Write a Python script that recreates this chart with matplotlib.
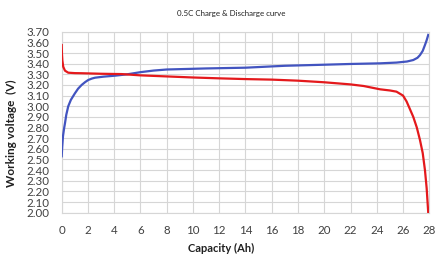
import matplotlib
matplotlib.use("Agg")
import matplotlib.pyplot as plt
import numpy as np

plt.rcParams['font.family'] = ['Lato', 'DejaVu Sans']

title = "0.5C Charge & Discharge curve"
xlabel = "Capacity (Ah)"
ylabel = "Working voltage  (V)"

charge_x = [0, 0.04, 0.1, 0.18, 0.25, 0.35, 0.5, 0.7, 1.0, 1.25, 1.52, 1.8, 2.03, 2.3, 2.54,
            3.2, 4.06, 5.0, 6.0, 7.0, 8.0, 11.0, 14.0, 17.0, 20.0, 22.0, 24.25,
            25.5, 26.3, 26.78, 27.1, 27.29, 27.5, 27.67, 27.8, 27.92]
charge_v = [2.53, 2.62, 2.72, 2.79, 2.84, 2.92, 3.00, 3.06, 3.12, 3.165, 3.20, 3.228, 3.247, 3.26, 3.268,
            3.278, 3.287, 3.30, 3.32, 3.335, 3.345, 3.355, 3.362, 3.38, 3.39, 3.397, 3.403,
            3.41, 3.42, 3.434, 3.455, 3.48, 3.52, 3.575, 3.62, 3.67]

discharge_x = [0, 0.02, 0.05, 0.12, 0.25, 0.5, 1.0, 1.5, 3.0, 4.57, 6.0, 8.0, 10.0,
               12.0, 14.0, 16.0, 18.0, 20.0, 22.0, 23.0, 24.25, 25.0, 25.5, 26.0, 26.27,
               26.5, 26.78, 27.05, 27.29, 27.5, 27.67, 27.8, 27.92]
discharge_v = [3.575, 3.49, 3.43, 3.37, 3.334, 3.315, 3.311, 3.31, 3.305, 3.302, 3.29, 3.28, 3.27,
               3.262, 3.255, 3.25, 3.24, 3.225, 3.205, 3.19, 3.159, 3.148, 3.137, 3.10, 3.045,
               2.98, 2.90, 2.80, 2.683, 2.56, 2.40, 2.23, 2.00]

fig = plt.figure(figsize=(4.36, 2.58), dpi=100)
ax = fig.add_axes([0.1415, 0.1756, 0.9846 - 0.1415, 0.8771 - 0.1756])

ax.plot(charge_x, charge_v, color='#4254c0', lw=1.6, zorder=3)
ax.plot(discharge_x, discharge_v, color='#e4191c', lw=1.6, zorder=3)

ax.set_xlim(0, 28)
ax.set_ylim(2.0, 3.7)
ax.set_xticks(np.arange(0, 29, 2))
yt = np.round(np.arange(2.0, 3.7001, 0.1), 2)
ax.set_yticks(yt)
ax.set_yticklabels([f"{v:.2f}" for v in yt])
ax.grid(True, color='#d6d6d6', lw=0.8)
ax.set_axisbelow(True)
for s in ax.spines.values():
    s.set_color('#d6d6d6')
    s.set_linewidth(0.8)
ax.tick_params(length=0, labelsize=8.3, colors='#404040')
ax.tick_params(axis='y', pad=9)
ax.tick_params(axis='x', pad=9)

ax.set_xlabel(xlabel, fontsize=8, fontweight='bold', color='#202020')
ax.xaxis.set_label_coords(0.4325, -0.17)
ax.set_ylabel(ylabel, fontsize=8.5, fontweight='bold', color='#202020')
ax.yaxis.set_label_coords(-0.122, 0.44)
fig.text(0.531, 0.946, title, fontsize=5.7, ha='center', va='center', color='#202020')

fig.savefig("out.png", dpi=100, facecolor='white')
